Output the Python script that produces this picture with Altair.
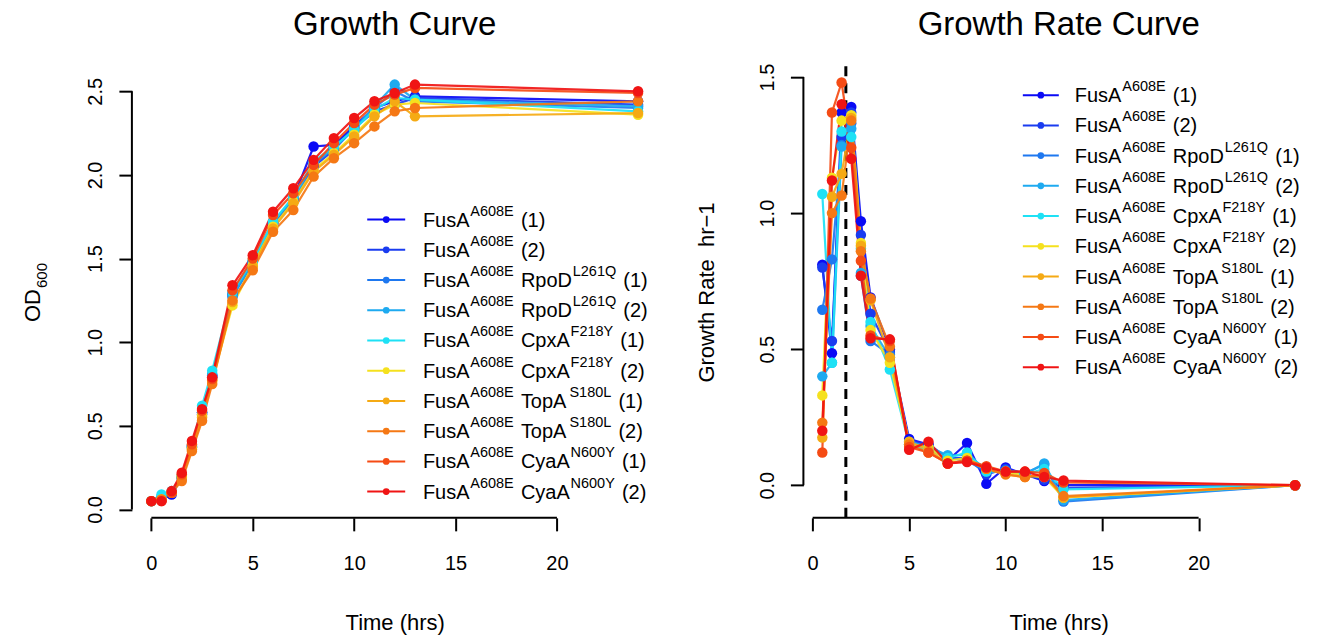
import altair as alt
import pandas as pd

FONT = "Liberation Sans"

# ---------------- data ----------------
series_keys = ["s01", "s02", "s03", "s04", "s05", "s06", "s07", "s08", "s09", "s10"]
colors = ["#0a0af5", "#1a3cf0", "#1e78f0", "#1eaaf0", "#1ee1f5",
          "#f5e11e", "#f5aa14", "#f57814", "#f54b14", "#f01414"]
base_gene = "FusA"
base_sup = "A608E"
gene2 = ["", "", "RpoD", "RpoD", "CpxA", "CpxA", "TopA", "TopA", "CyaA", "CyaA"]
gene2_sup = ["", "", "L261Q", "L261Q", "F218Y", "F218Y", "S180L", "S180L", "N600Y", "N600Y"]
replicate = ["(1)", "(2)", "(1)", "(2)", "(1)", "(2)", "(1)", "(2)", "(1)", "(2)"]
titles = ["Growth Curve", "Growth Rate Curve"]

od_time = [0, 0.5, 1, 1.5, 2, 2.5, 3, 4, 5, 6, 7, 8, 9, 10, 11, 12, 13, 24]
od_s01 = [0.05, 0.06, 0.09, 0.19, 0.38, 0.58, 0.80, 1.29, 1.47, 1.71, 1.86, 2.17, 2.18, 2.29, 2.40, 2.44, 2.47, 2.44]
od_s02 = [0.05, 0.06, 0.10, 0.19, 0.37, 0.57, 0.79, 1.28, 1.48, 1.70, 1.85, 2.05, 2.15, 2.28, 2.38, 2.42, 2.46, 2.42]
od_s03 = [0.05, 0.07, 0.10, 0.20, 0.38, 0.58, 0.80, 1.27, 1.47, 1.71, 1.86, 2.06, 2.16, 2.28, 2.40, 2.50, 2.44, 2.40]
od_s04 = [0.05, 0.08, 0.10, 0.19, 0.37, 0.58, 0.81, 1.28, 1.48, 1.72, 1.86, 2.07, 2.16, 2.27, 2.41, 2.54, 2.45, 2.41]
od_s05 = [0.05, 0.09, 0.11, 0.20, 0.38, 0.62, 0.83, 1.30, 1.49, 1.72, 1.87, 2.08, 2.17, 2.27, 2.39, 2.46, 2.45, 2.38]
od_s06 = [0.05, 0.06, 0.10, 0.20, 0.37, 0.56, 0.77, 1.22, 1.46, 1.69, 1.84, 2.03, 2.13, 2.24, 2.36, 2.42, 2.43, 2.36]
od_s07 = [0.05, 0.06, 0.10, 0.19, 0.36, 0.55, 0.77, 1.24, 1.45, 1.68, 1.83, 2.02, 2.12, 2.23, 2.35, 2.44, 2.35, 2.37]
od_s08 = [0.05, 0.06, 0.10, 0.17, 0.35, 0.53, 0.75, 1.25, 1.43, 1.66, 1.79, 1.99, 2.10, 2.19, 2.29, 2.38, 2.40, 2.44]
od_s09 = [0.05, 0.05, 0.10, 0.21, 0.39, 0.59, 0.78, 1.31, 1.50, 1.76, 1.89, 2.06, 2.19, 2.31, 2.42, 2.48, 2.52, 2.49]
od_s10 = [0.05, 0.05, 0.11, 0.22, 0.41, 0.60, 0.79, 1.34, 1.52, 1.78, 1.92, 2.09, 2.22, 2.34, 2.44, 2.49, 2.54, 2.50]
od_values = [od_s01, od_s02, od_s03, od_s04, od_s05, od_s06, od_s07, od_s08, od_s09, od_s10]

gr_time = [0.5, 1, 1.5, 2, 2.5, 3, 4, 5, 6, 7, 8, 9, 10, 11, 12, 13, 25]
gr_s01 = [0.81, 0.485, 1.37, 1.39, 0.97, 0.69, 0.50, 0.17, 0.15, 0.09, 0.155, 0.005, 0.065, 0.04, 0.015, 0.00, 0]
gr_s02 = [0.80, 0.53, 1.28, 1.37, 0.92, 0.63, 0.49, 0.16, 0.15, 0.10, 0.10, 0.04, 0.06, 0.04, 0.02, -0.01, 0]
gr_s03 = [0.645, 0.83, 1.25, 1.33, 0.77, 0.53, 0.48, 0.15, 0.14, 0.10, 0.09, 0.05, 0.055, 0.045, 0.075, -0.06, 0]
gr_s04 = [0.40, 0.45, 1.245, 1.31, 0.78, 0.585, 0.47, 0.16, 0.14, 0.11, 0.11, 0.06, 0.05, 0.04, 0.08, -0.055, 0]
gr_s05 = [1.07, 0.45, 1.30, 1.28, 0.87, 0.60, 0.425, 0.15, 0.13, 0.10, 0.12, 0.05, 0.05, 0.04, 0.06, -0.015, 0]
gr_s06 = [0.33, 1.13, 1.34, 1.36, 0.89, 0.57, 0.45, 0.15, 0.14, 0.09, 0.10, 0.06, 0.05, 0.035, 0.03, -0.045, 0]
gr_s07 = [0.175, 1.06, 1.145, 1.35, 0.88, 0.68, 0.47, 0.16, 0.13, 0.08, 0.09, 0.06, 0.04, 0.03, 0.04, -0.045, 0]
gr_s08 = [0.23, 1.00, 1.065, 1.34, 0.86, 0.686, 0.51, 0.15, 0.12, 0.08, 0.09, 0.06, 0.04, 0.03, 0.04, -0.04, 0]
gr_s09 = [0.12, 1.37, 1.48, 1.24, 0.825, 0.55, 0.53, 0.14, 0.12, 0.08, 0.09, 0.07, 0.05, 0.05, 0.045, 0.01, 0]
gr_s10 = [0.20, 1.12, 1.40, 1.20, 0.77, 0.54, 0.536, 0.13, 0.16, 0.08, 0.085, 0.065, 0.05, 0.05, 0.03, 0.017, 0]
gr_values = [gr_s01, gr_s02, gr_s03, gr_s04, gr_s05, gr_s06, gr_s07, gr_s08, gr_s09, gr_s10]

peak_time = [1.72]
x_ticks = [0, 5, 10, 15, 20]
od_ticks = [0.0, 0.5, 1.0, 1.5, 2.0, 2.5]
gr_ticks = [0.0, 0.5, 1.0, 1.5]

# ---------------- tables ----------------
def long_table(times, values):
    rows = []
    for key, vals in zip(series_keys, values):
        for t, v in zip(times, vals):
            rows.append({"series": key, "time": t, "value": v})
    return pd.DataFrame(rows)

od_df = long_table(od_time, od_values)
gr_df = long_table(gr_time, gr_values)

# Arial / Liberation Sans advance widths (per 1000 em)
ADV = {"F": 611, "u": 556, "s": 500, "A": 667, "R": 722, "p": 556, "o": 556, "D": 722,
       "C": 722, "x": 500, "T": 611, "y": 500, "a": 556, "(": 333, ")": 333, "E": 667,
       "L": 556, "Q": 778, "Y": 667, "S": 667, "N": 722, " ": 278}
MAIN_FS = 20
SUP_FS = 14.5


def tw(s, fs):
    return sum(ADV.get(c, 556) for c in s) / 1000.0 * fs


def legend_tables(text_x, line_x1, line_x2, row0, step):
    segs, lines = [], []
    for i, key in enumerate(series_keys):
        py = row0 + i * step
        lines.append({"series": key, "x1": line_x1, "x2": line_x2,
                      "xp": (line_x1 + line_x2) / 2, "py": py})
        parts = [(base_gene, "m"), (base_sup, "s")]
        if gene2[i]:
            parts += [(gene2[i], "m"), (gene2_sup[i], "s")]
        parts += [(replicate[i], "m")]
        x = text_x
        prev = None
        for txt, kind in parts:
            if prev == "s":
                x += tw(" ", MAIN_FS) + 1.5
            elif prev == "m" and kind == "m":
                x += tw(" ", MAIN_FS)
            elif prev == "m" and kind == "s":
                x += 0.8
            segs.append({"px": x, "py": py, "text": txt, "kind": kind})
            x += tw(txt, MAIN_FS if kind == "m" else SUP_FS)
            prev = kind
    return pd.DataFrame(segs), pd.DataFrame(lines)


color_scale = alt.Scale(domain=series_keys, range=colors)


def make_panel(df, W, H, xdom, ydom, yticks, title, ytitle, ytitle_x, legend_pos, corner):
    xs = alt.Scale(domain=xdom, nice=False, zero=False)
    ys = alt.Scale(domain=ydom, nice=False, zero=False)
    xaxis = alt.Axis(values=x_ticks, domain=False, grid=False, tickSize=13, tickWidth=2,
                     tickColor="black", labelFont=FONT, labelFontSize=20, labelColor="black",
                     labelPadding=23, labelFlush=False, title="Time (hrs)", titleFont=FONT,
                     titleFontSize=22, titleFontWeight="normal", titleColor="black",
                     titleBaseline="alphabetic", titleY=112)
    yaxis_kw = dict(values=yticks, domain=False, grid=False, tickSize=13, tickWidth=2,
                    tickColor="black", labelFont=FONT, labelFontSize=20, labelColor="black",
                    labelAngle=270, labelAlign="center", labelBaseline="alphabetic",
                    labelPadding=17, labelFlush=False, format=".1f")
    if ytitle:
        yaxis = alt.Axis(**yaxis_kw, title=ytitle, titleFont=FONT, titleFontSize=22,
                         titleFontWeight="normal", titleColor="black", titleAngle=270,
                         titleAlign="center", titleBaseline="alphabetic",
                         titleX=ytitle_x, titleY=H / 2)
    else:
        yaxis = alt.Axis(**yaxis_kw, title=None)

    base = alt.Chart(df)
    line = base.mark_line(strokeWidth=2.2, opacity=0.92).encode(
        x=alt.X("time:Q", scale=xs, axis=xaxis),
        y=alt.Y("value:Q", scale=ys, axis=yaxis),
        color=alt.Color("series:N", scale=color_scale, legend=None),
        order=alt.Order("time:Q"),
    )
    pts = base.mark_circle(size=110, opacity=1).encode(
        x=alt.X("time:Q", scale=xs),
        y=alt.Y("value:Q", scale=ys),
        color=alt.Color("series:N", scale=color_scale, legend=None),
    )
    ax_df = pd.DataFrame({"a": [x_ticks[0]], "b": [x_ticks[-1]],
                          "c": [yticks[0]], "d": [yticks[-1]]})
    xline = alt.Chart(ax_df).mark_rule(color="black", strokeWidth=2).encode(
        x=alt.X("a:Q", scale=xs), x2="b:Q", y=alt.value(H))
    yline = alt.Chart(ax_df).mark_rule(color="black", strokeWidth=2).encode(
        y=alt.Y("c:Q", scale=ys), y2="d:Q", x=alt.value(0))
    data_layers = [xline, yline, line, pts]
    if df is gr_df:
        peak = alt.Chart(pd.DataFrame({"t": peak_time})).mark_rule(
            color="black", strokeWidth=3, strokeDash=[10, 7]).encode(
            x=alt.X("t:Q", scale=xs))
        data_layers.insert(2, peak)
    data = alt.layer(*data_layers)

    segs, lines = legend_tables(*legend_pos)
    lx = alt.Scale(domain=[0, W], range=[0, W])
    ly = alt.Scale(domain=[0, H], range=[0, H])
    leg_line = alt.Chart(lines).mark_rule(strokeWidth=2).encode(
        x=alt.X("x1:Q", scale=lx, axis=None), x2="x2:Q",
        y=alt.Y("py:Q", scale=ly, axis=None),
        color=alt.Color("series:N", scale=color_scale, legend=None))
    leg_pt = alt.Chart(lines).mark_circle(size=45, opacity=1).encode(
        x=alt.X("xp:Q", scale=lx, axis=None),
        y=alt.Y("py:Q", scale=ly, axis=None),
        color=alt.Color("series:N", scale=color_scale, legend=None))
    main_t = alt.Chart(segs[segs.kind == "m"]).mark_text(
        font=FONT, fontSize=MAIN_FS, align="left", baseline="alphabetic", dy=7,
        color="black").encode(
        x=alt.X("px:Q", scale=lx, axis=None), y=alt.Y("py:Q", scale=ly, axis=None),
        text="text:N")
    sup_t = alt.Chart(segs[segs.kind == "s"]).mark_text(
        font=FONT, fontSize=SUP_FS, align="left", baseline="alphabetic", dy=-4,
        color="black").encode(
        x=alt.X("px:Q", scale=lx, axis=None), y=alt.Y("py:Q", scale=ly, axis=None),
        text="text:N")
    # invisible anchor fixing the outer extent of the page
    anchor = alt.Chart(pd.DataFrame({"k": [0]})).mark_rule(
        strokeWidth=0.01, opacity=0).encode(
        x=alt.value(corner[0]), x2=alt.value(corner[0]),
        y=alt.value(corner[1]), y2=alt.value(corner[1]))
    title_t = alt.Chart(pd.DataFrame({"t": [title]})).mark_text(
        font=FONT, fontSize=33, align="center", baseline="alphabetic",
        color="black").encode(x=alt.value(W / 2), y=alt.value(-31), text="t:N")
    leg_layers = [anchor, title_t, leg_line, leg_pt, main_t, sup_t]
    if not ytitle:
        od_t = alt.Chart(pd.DataFrame({"t": ["OD"]})).mark_text(
            font=FONT, fontSize=22, angle=270, align="left", baseline="alphabetic",
            color="black").encode(x=alt.value(-92), y=alt.value(256), text="t:N")
        sub_t = alt.Chart(pd.DataFrame({"t": ["600"]})).mark_text(
            font=FONT, fontSize=15, angle=270, align="left", baseline="alphabetic",
            color="black").encode(x=alt.value(-85), y=alt.value(222), text="t:N")
        leg_layers += [od_t, sub_t]
    legend = alt.layer(*leg_layers)

    return alt.layer(data, legend).resolve_scale(
        x="independent", y="independent").properties(width=W, height=H)


H = 452
left = make_panel(od_df, 526, H, [-0.96, 24.96], [-0.05, 2.65], od_ticks,
                  titles[0], None, None, (291.2, 235.5, 273.5, 153.5, 30.25),
                  (-131.5, -66))
right = make_panel(gr_df, 511, H, [-0.48, 25.98], [-0.12, 1.54], gr_ticks,
                   titles[1], "Growth Rate\u00a0\u00a0hr\u22121", -90,
                   (271.6, 219.6, 255.6, 29.0, 30.25), (537, 575))

chart = alt.hconcat(left, right, spacing=146, bounds="flush").properties(
    padding=0,
    background="white",
).configure_view(stroke=None)

chart.save("out.html", embed_options={"renderer": "svg", "actions": False})
